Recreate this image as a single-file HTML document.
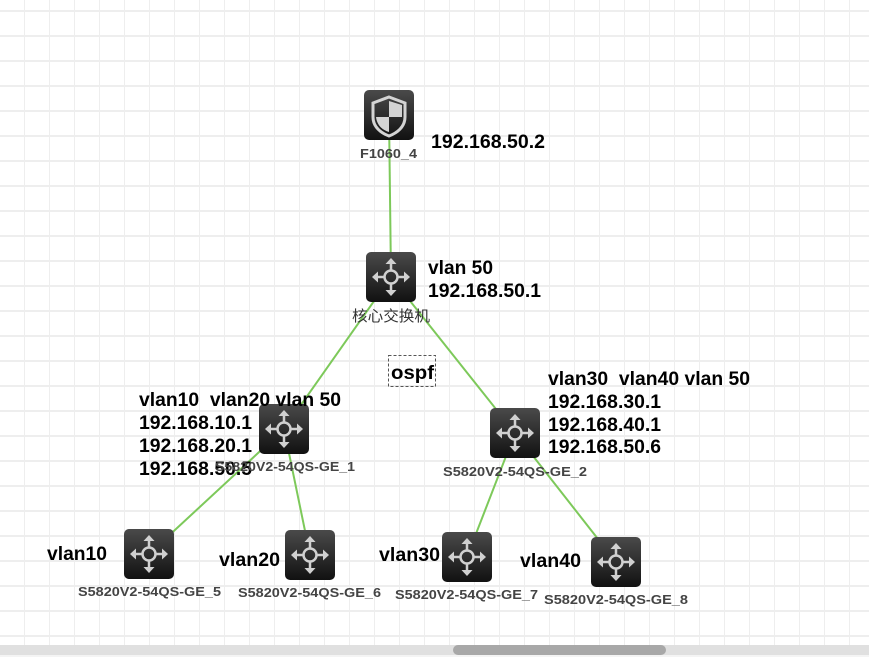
<!DOCTYPE html>
<html><head><meta charset="utf-8"><style>
html,body{margin:0;padding:0;background:#fff;}
svg{display:block;}
text{white-space:pre;}
.l{font-family:"Liberation Sans",sans-serif;font-weight:bold;font-size:19px;fill:#000;}
.n{font-family:"Liberation Sans","Noto Sans CJK SC",sans-serif;font-weight:bold;font-size:13px;fill:#444;}
</style></head><body>
<svg width="869" height="657" viewBox="0 0 869 657" xmlns="http://www.w3.org/2000/svg" xml:space="preserve">
<defs>
<pattern id="g" x="0" y="10" width="25" height="25" patternUnits="userSpaceOnUse">
<rect x="24" y="0" width="2" height="25" fill="#eeeeee"/>
<rect x="0" y="0" width="25" height="2" fill="#eeeeee"/>
</pattern>
<linearGradient id="ig" x1="0" y1="0" x2="0" y2="1">
<stop offset="0" stop-color="#4a4a4a"/><stop offset="1" stop-color="#111"/>
</linearGradient>
<g id="sw">
<rect x="0" y="0" width="50" height="50" rx="5" fill="url(#ig)"/>
<g stroke="#d0d0d0" stroke-width="2.5" fill="none" stroke-linecap="round">
<circle cx="25" cy="25" r="6.5"/>
<line x1="25" y1="18" x2="25" y2="10"/><line x1="25" y1="32" x2="25" y2="40"/>
<line x1="18" y1="25" x2="10" y2="25"/><line x1="32" y1="25" x2="40" y2="25"/>
</g>
<g fill="#d0d0d0">
<polygon points="25,6 19.5,12 30.5,12"/><polygon points="25,44 19.5,38 30.5,38"/>
<polygon points="6,25 12,19.5 12,30.5"/><polygon points="44,25 38,19.5 38,30.5"/>
</g>
</g>
</defs>
<rect width="869" height="657" fill="#fff"/>
<rect width="869" height="645" fill="url(#g)"/>
<g stroke="#7dc95a" stroke-width="2">
<line x1="389" y1="115" x2="391" y2="277"/>
<line x1="391" y1="277" x2="284" y2="429"/>
<line x1="391" y1="277" x2="515" y2="433"/>
<line x1="284" y1="429" x2="149" y2="554"/>
<line x1="284" y1="429" x2="310" y2="555"/>
<line x1="515" y1="433" x2="467" y2="557"/>
<line x1="515" y1="433" x2="616" y2="562"/>
</g>
<rect x="364" y="90" width="50" height="50" rx="5" fill="url(#ig)"/>
<path d="M389 97 L405 103 L405 117 C405 127 397 133 389 136 C381 133 373 127 373 117 L373 103 Z" fill="none" stroke="#d4d4d4" stroke-width="3"/>
<path d="M389 101 L389 117 L402 117 C402 106 402 106 402 105 Z" fill="#d4d4d4"/>
<path d="M389 117 L376 117 C377 125 382 130 389 132 Z" fill="#d4d4d4"/>
<use href="#sw" x="366" y="252"/>
<use href="#sw" x="259" y="404"/>
<use href="#sw" x="490" y="408"/>
<use href="#sw" x="124" y="529"/>
<use href="#sw" x="285" y="530"/>
<use href="#sw" x="442" y="532"/>
<use href="#sw" x="591" y="537"/>
<text class="n" x="360" y="158" textLength="57" lengthAdjust="spacingAndGlyphs">F1060_4</text>
<text class="l" x="431" y="148" textLength="114" lengthAdjust="spacingAndGlyphs">192.168.50.2</text>
<text class="l" x="428" y="274" textLength="65" lengthAdjust="spacingAndGlyphs">vlan 50</text>
<text class="l" x="428" y="297" textLength="113" lengthAdjust="spacingAndGlyphs">192.168.50.1</text>
<text class="n" x="352" y="321" textLength="78" lengthAdjust="spacingAndGlyphs" style="font-weight:normal;font-size:15px;fill:#333">核心交换机</text>
<rect x="388.5" y="355.5" width="47" height="31" fill="none" stroke="#555" stroke-dasharray="3,2"/>
<text class="l" x="391" y="379" textLength="43" lengthAdjust="spacingAndGlyphs">ospf</text>
<text class="l" x="139" y="406" textLength="202" lengthAdjust="spacingAndGlyphs">vlan10  vlan20 vlan 50</text>
<text class="l" x="139" y="429" textLength="113" lengthAdjust="spacingAndGlyphs">192.168.10.1</text>
<text class="l" x="139" y="452" textLength="113" lengthAdjust="spacingAndGlyphs">192.168.20.1</text>
<text class="l" x="139" y="475" textLength="113" lengthAdjust="spacingAndGlyphs">192.168.50.5</text>
<text class="n" x="215" y="471" textLength="140" lengthAdjust="spacingAndGlyphs">S5820V2-54QS-GE_1</text>
<text class="l" x="548" y="385" textLength="202" lengthAdjust="spacingAndGlyphs">vlan30  vlan40 vlan 50</text>
<text class="l" x="548" y="408" textLength="113" lengthAdjust="spacingAndGlyphs">192.168.30.1</text>
<text class="l" x="548" y="431" textLength="113" lengthAdjust="spacingAndGlyphs">192.168.40.1</text>
<text class="l" x="548" y="453" textLength="113" lengthAdjust="spacingAndGlyphs">192.168.50.6</text>
<text class="n" x="443" y="476" textLength="144" lengthAdjust="spacingAndGlyphs">S5820V2-54QS-GE_2</text>
<text class="l" x="47" y="560" textLength="60" lengthAdjust="spacingAndGlyphs">vlan10</text>
<text class="l" x="219" y="566" textLength="61" lengthAdjust="spacingAndGlyphs">vlan20</text>
<text class="l" x="379" y="561" textLength="61" lengthAdjust="spacingAndGlyphs">vlan30</text>
<text class="l" x="520" y="567" textLength="61" lengthAdjust="spacingAndGlyphs">vlan40</text>
<text class="n" x="78" y="596" textLength="143" lengthAdjust="spacingAndGlyphs">S5820V2-54QS-GE_5</text>
<text class="n" x="238" y="597" textLength="143" lengthAdjust="spacingAndGlyphs">S5820V2-54QS-GE_6</text>
<text class="n" x="395" y="599" textLength="143" lengthAdjust="spacingAndGlyphs">S5820V2-54QS-GE_7</text>
<text class="n" x="544" y="604" textLength="144" lengthAdjust="spacingAndGlyphs">S5820V2-54QS-GE_8</text>
<rect x="0" y="645" width="869" height="10" fill="#e0e0e0"/>
<rect x="453" y="645" width="213" height="10" rx="5" fill="#a8a8a8"/>
<rect x="0" y="655" width="869" height="2" fill="#f4f4f4"/>
</svg>
</body></html>
